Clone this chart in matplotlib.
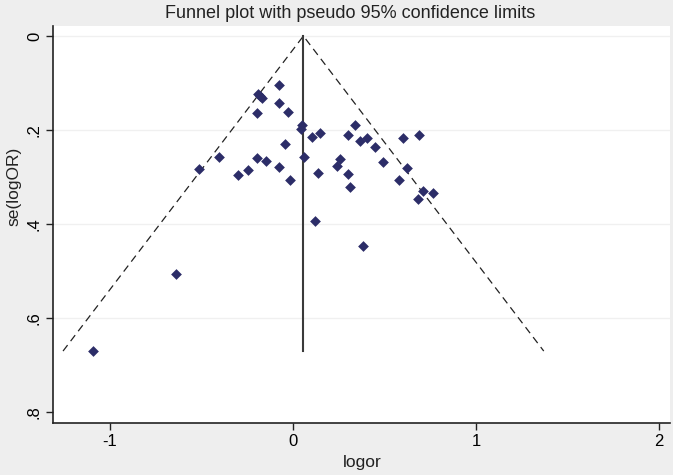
import numpy as np
import matplotlib.pyplot as plt

# study estimates
logor = [-0.078, -0.192, -0.180, -0.169, -0.078, -0.195, -0.029, 0.047, 0.042, -0.042,
         -0.404, -0.515, -0.195, -0.148, -0.244, -0.299, -0.078, -0.015, 0.062, 0.104,
         0.148, 0.340, 0.301, 0.368, 0.404, 0.446, 0.600, 0.689, 0.494, 0.258,
         0.242, 0.138, 0.301, 0.313, 0.625, 0.577, 0.710, 0.765, 0.682, 0.118,
         0.383, -0.641, -1.093]
se_logor = [0.105, 0.123, 0.128, 0.132, 0.142, 0.164, 0.162, 0.189, 0.198, 0.230,
            0.257, 0.282, 0.259, 0.265, 0.284, 0.296, 0.279, 0.306, 0.257, 0.214,
            0.206, 0.189, 0.211, 0.223, 0.216, 0.235, 0.216, 0.211, 0.268, 0.262,
            0.276, 0.292, 0.294, 0.322, 0.281, 0.306, 0.330, 0.333, 0.347, 0.393,
            0.447, 0.507, 0.670]
pooled = 0.057

xticks = [-1, 0, 1, 2]
yticks = [0, 0.2, 0.4, 0.6, 0.8]
yticklabels = ['0', '.2', '.4', '.6', '.8']

plt.rcParams['font.family'] = ['Liberation Sans', 'DejaVu Sans']

fig = plt.figure(figsize=(6.73, 4.75), dpi=100, facecolor='#eeeeee')
ax = fig.add_axes([53 / 673, 1 - 423 / 475, 617 / 673, 397 / 475])
ax.set_facecolor('white')

# pseudo 95% limits
se_max = max(se_logor)
ax.plot([pooled - 1.96 * se_max, pooled, pooled + 1.96 * se_max], [se_max, 0, se_max],
        color='#222222', lw=0.9, ls=(0, (6, 4)), zorder=2)
ax.plot([pooled, pooled], [0, se_max], color='#3a3a3a', lw=1.5, zorder=2)

ax.scatter(logor, se_logor, marker='D', s=30, color='#2c2d68', zorder=3, linewidths=0)

for y in yticks[:-1]:
    ax.axhline(y, color='#f0f0f0', lw=1, zorder=1)

ax.set_xlim(-1.311, 2.060)
ax.set_ylim(0.823, -0.0213)
ax.set_xticks(xticks)
ax.set_xticklabels([str(t) for t in xticks], fontsize=12)
ax.set_yticks(yticks)
ax.set_yticklabels(yticklabels, fontsize=12, rotation=90, va='center')
ax.tick_params(direction='out', length=5, width=1, color='#222222', pad=3)

for s in ['top', 'right']:
    ax.spines[s].set_visible(False)
for s in ['left', 'bottom']:
    ax.spines[s].set_linewidth(1.2)
    ax.spines[s].set_color('#222222')

fig.text(350 / 673, 1 - 14 / 475, 'Funnel plot with pseudo 95% confidence limits',
         ha='center', va='center', fontsize=13, color='#222222')
fig.text(362 / 673, 1 - 462 / 475, 'logor', ha='center', va='center', fontsize=12.5, color='#222222')
fig.text(14 / 673, 1 - 186 / 475, 'se(logOR)', ha='center', va='center', rotation=90,
         fontsize=12.5, color='#222222')

fig.savefig('out.png', dpi=100, facecolor=fig.get_facecolor())
